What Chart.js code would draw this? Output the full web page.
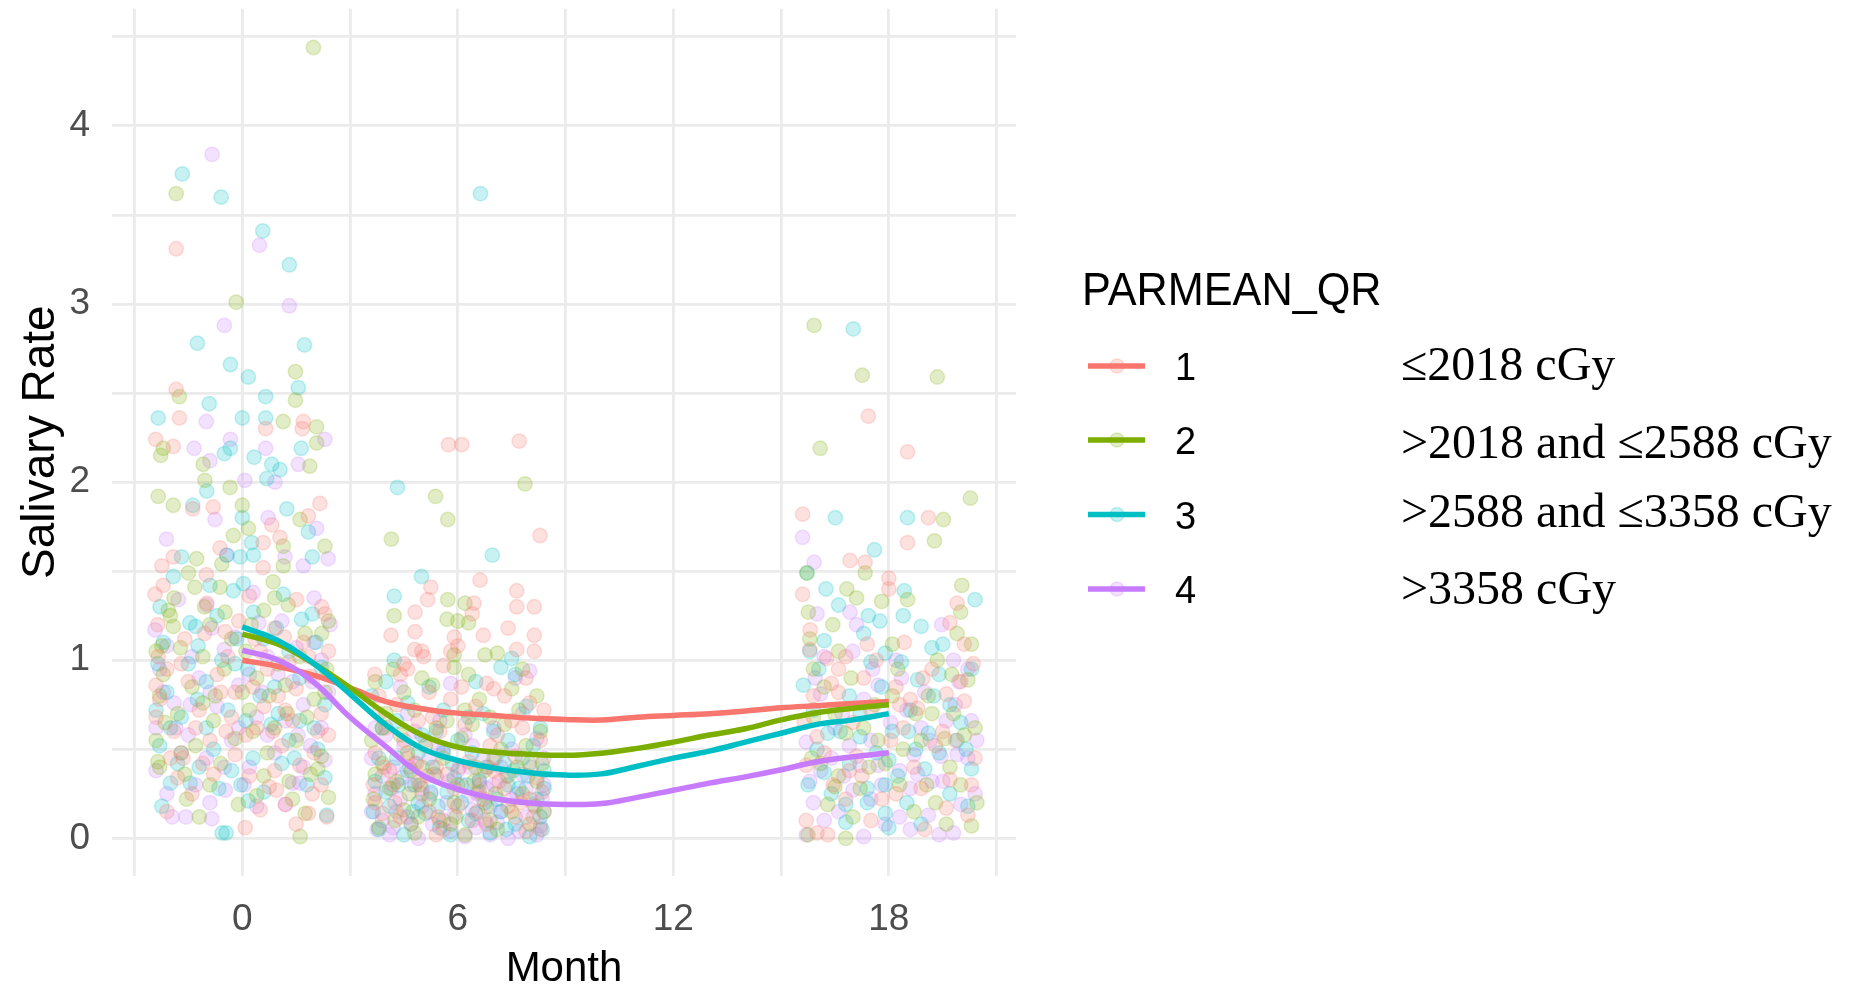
<!DOCTYPE html>
<html>
<head>
<meta charset="utf-8">
<script src="https://cdn.jsdelivr.net/npm/chart.js@4.4.1/dist/chart.umd.min.js"></script>
<style>
html,body{margin:0;padding:0;background:#fff;overflow:hidden}
canvas{display:block}
</style>
</head>
<body>
<canvas id="c" width="1859" height="993"></canvas>
<script>
// Dose quartile groups
const groupNames = ['1', '2', '3', '4'];
const groupLabels = ['\u22642018 cGy', '>2018 and \u22642588 cGy', '>2588 and \u22643358 cGy', '>3358 cGy'];
const groupColors = ['#F8766D', '#7CAE00', '#00BFC4', '#C77CFF'];

// Axis ticks
const xGrid = [-3, 0, 3, 6, 9, 12, 15, 18, 21];
const xLabeled = [0, 6, 12, 18];
const yGrid = [0, 0.5, 1, 1.5, 2, 2.5, 3, 3.5, 4, 4.5];
const yLabeled = [0, 1, 2, 3, 4];

// Smoothed trend per group, month 0..18
const smoothMonths = [0, 1, 2, 3, 4, 5, 6, 7, 8, 9, 10, 11, 12, 13, 14, 15, 16, 17, 18];
const q1Smooth = [1.00, 0.965, 0.915, 0.845, 0.768, 0.728, 0.703, 0.690, 0.675, 0.667, 0.664, 0.680, 0.690, 0.700, 0.715, 0.733, 0.745, 0.757, 0.768];
const q2Smooth = [1.146, 1.09, 0.98, 0.845, 0.70, 0.58, 0.512, 0.485, 0.472, 0.466, 0.478, 0.505, 0.54, 0.58, 0.615, 0.665, 0.705, 0.73, 0.75];
const q3Smooth = [1.187, 1.11, 0.98, 0.81, 0.637, 0.505, 0.437, 0.395, 0.368, 0.355, 0.362, 0.405, 0.45, 0.49, 0.54, 0.59, 0.64, 0.665, 0.70];
const q4Smooth = [1.056, 1.00, 0.875, 0.68, 0.515, 0.356, 0.275, 0.225, 0.198, 0.19, 0.195, 0.23, 0.27, 0.31, 0.345, 0.385, 0.43, 0.458, 0.48];

// Individual observations [jittered month, salivary rate]
const q1Points = [
  [-1.84,3.31],[-1.84,2.52],[-1.75,2.36],[0.65,2.30],[1.67,2.30],[1.70,2.34],[-2.41,2.24],[-1.92,2.20],[-0.81,1.86],[-1.38,1.85],
  [0.82,1.76],[1.84,1.81],[2.16,1.88],[1.05,1.69],[0.58,1.66],[-0.62,1.63],[-1.92,1.58],[-2.24,1.53],[0.58,1.52],[-2.43,1.37],
  [1.51,1.34],[2.21,1.30],[-0.99,1.32],[-0.48,1.16],[1.17,1.13],[2.30,1.26],[-2.34,1.02],[-1.60,1.12],[-0.10,1.22],[0.50,1.05],
  [1.30,0.99],[-2.10,0.95],[-1.50,0.88],[-0.70,0.92],[0.30,0.85],[1.00,0.80],[1.90,0.91],[-2.30,0.78],[-1.20,0.72],[-0.30,0.68],
  [0.60,0.74],[1.40,0.66],[2.20,0.70],[-1.90,0.60],[-0.90,0.55],[0.10,0.58],[1.10,0.52],[2.00,0.48],[-2.00,0.45],[-1.10,0.42],
  [-0.20,0.47],[0.90,0.38],[1.60,0.41],[-0.60,0.82],[2.40,0.58],[-2.40,0.86],[0.20,0.35],[0.75,0.29],[0.95,0.27],[1.84,0.14],
  [2.35,0.12],[-1.80,0.34],[1.20,0.19],[0.08,0.06],[-1.40,0.25],[1.50,0.08],
  [-2.20,1.42],[-1.00,1.48],[0.20,1.36],[1.70,1.10],[2.40,1.05],[-1.70,0.98],[-0.40,1.02],[0.70,0.95],[1.50,0.84],[-2.40,0.68],
  [-1.30,0.62],[0.40,0.62],[1.20,0.72],[2.10,0.60],[-0.80,0.36],[0.50,0.16],[-2.10,0.15],[2.20,0.30],[-0.20,0.82],[0.90,1.18],
  [-2.35,1.20],[-1.05,1.15],[0.35,1.12],[1.85,1.02],[-1.65,0.45],[-0.45,0.60],[0.85,0.60],[1.95,0.25],
  [5.74,2.21],[6.11,2.21],[7.71,2.23],[8.29,1.70],[5.25,1.41],[6.62,1.45],[5.16,1.34],[6.45,1.32],[7.64,1.39],[7.64,1.30],
  [8.13,1.30],[4.81,1.27],[6.40,1.26],[4.14,1.14],[4.81,1.16],[5.90,1.13],[6.71,1.14],[8.13,1.14],[4.80,1.06],[5.00,1.05],
  [5.05,1.02],[6.00,1.08],[7.64,1.06],[8.13,1.05],[4.50,0.98],[5.60,0.97],[3.69,0.92],[4.40,0.92],[7.90,0.90],[6.80,0.87],
  [7.00,0.84],[3.80,0.80],[4.30,0.75],[5.20,0.82],[5.80,0.78],[6.50,0.74],[7.30,0.80],[8.00,0.76],[4.00,0.62],[4.90,0.66],
  [5.50,0.60],[6.20,0.64],[7.10,0.58],[7.80,0.62],[8.30,0.55],[3.70,0.48],[4.60,0.45],[5.40,0.40],[6.30,0.43],[7.00,0.38],
  [7.60,0.46],[8.20,0.34],[4.20,0.30],[5.00,0.25],[5.90,0.28],[6.70,0.22],[7.40,0.18],[8.10,0.12],[3.90,0.14],[4.70,0.08],
  [5.60,0.05],[6.40,0.10],[7.90,0.04],
  [3.80,0.70],[4.50,0.55],[5.30,0.68],[6.10,0.85],[6.90,0.52],[7.50,0.66],[8.40,0.72],[4.10,0.38],[4.90,0.32],[5.70,0.36],
  [6.60,0.30],[7.30,0.28],[8.00,0.22],[3.70,0.20],[4.40,0.12],[5.20,0.15],[6.00,0.18],[6.80,0.08],[7.60,0.12],[8.30,0.05],
  [5.40,0.02],[4.60,0.95],[7.40,1.18],[5.80,1.05],
  [3.65,0.30],[4.25,0.20],[4.85,0.42],[5.45,0.12],[6.05,0.40],[6.55,0.15],[7.15,0.32],[7.75,0.20],[8.35,0.26],[5.15,0.35],
  [6.85,0.40],[3.95,0.40],
  [17.43,2.37],[18.52,2.17],[15.60,1.82],[19.10,1.80],[18.52,1.66],[16.92,1.56],[17.34,1.55],[18.00,1.46],[15.60,1.37],[18.00,1.40],
  [19.90,1.32],[19.70,1.21],[15.81,1.17],[18.43,1.10],[17.40,1.09],[15.80,1.06],[20.10,1.09],[16.27,1.01],[16.80,1.02],[16.40,0.87],
  [17.30,0.90],[18.20,0.85],[16.60,0.82],[18.60,0.78],[19.60,0.81],[20.10,0.77],[18.30,0.75],[18.80,0.73],[16.00,0.57],[15.70,0.41],
  [19.70,0.33],[19.60,0.17],[15.70,0.10],[20.20,0.13],[16.30,0.02],[16.00,0.03],[17.00,0.65],[19.30,0.52],[17.80,0.22],[20.40,0.45],
  [16.90,0.38],[18.90,0.28],
  [15.90,0.80],[16.60,0.95],[17.50,0.72],[18.40,0.62],[19.20,0.95],[20.00,0.88],[16.20,0.48],[17.10,0.46],[18.70,0.40],[19.50,0.60],
  [20.30,0.30],[16.80,0.22],[18.20,0.25],[19.00,0.05],[17.50,0.10],
  [15.65,0.65],[16.45,0.30],[17.25,0.35],[18.05,0.55],[18.95,0.90],[19.85,0.55],[20.35,0.98],[17.65,1.00]
];
const q2Points = [
  [1.98,4.44],[-1.84,3.62],[-0.17,3.01],[1.48,2.62],[-1.75,2.48],[1.48,2.46],[1.14,2.34],[2.07,2.31],[-2.20,2.19],[2.07,2.22],
  [-2.27,2.15],[-1.09,2.10],[1.88,2.09],[-1.04,2.01],[-0.34,1.97],[-2.34,1.92],[-1.92,1.87],[0.00,1.87],[1.61,1.79],[-0.25,1.70],
  [0.17,1.74],[1.14,1.64],[2.30,1.64],[-1.27,1.57],[-0.57,1.54],[1.14,1.53],[-1.50,1.49],[-0.62,1.41],[0.86,1.44],[-1.32,1.41],
  [-0.48,1.27],[-2.06,1.28],[1.28,1.31],[-1.92,1.19],[1.75,1.15],[2.21,1.15],[-2.24,1.08],[-1.72,1.07],[-1.10,1.02],[-2.35,0.43],
  [-2.30,0.40],[2.10,0.39],[1.30,0.32],[-0.90,0.30],[-0.11,0.19],[1.61,0.01],[1.75,0.14],[-2.20,0.92],[-1.40,0.85],[-0.50,0.95],
  [0.40,0.90],[1.20,0.86],[2.30,0.82],[-1.80,0.70],[-0.80,0.66],[0.20,0.72],[0.90,0.62],[1.80,0.68],[-2.40,0.55],[-1.30,0.52],
  [-0.20,0.56],[0.70,0.48],[1.50,0.55],[2.20,0.46],[-1.60,0.36],[0.40,0.24],[2.40,0.23],[-2.00,1.25],[0.10,1.05],
  [-1.90,1.35],[-0.90,1.20],[0.60,1.28],[1.60,1.02],[2.40,1.22],[-2.30,0.80],[-1.10,0.76],[0.00,0.82],[1.00,0.98],[2.00,0.78],
  [-1.70,0.48],[-0.60,0.42],[0.60,0.35],[1.40,0.22],[-1.20,0.12],[-0.30,1.12],[1.90,0.36],[0.90,1.35],[-2.40,1.05],[0.30,0.60],
  [-2.15,0.65],[-1.05,1.30],[0.25,1.20],[1.25,0.70],[2.35,0.95],[-0.75,0.80],[0.75,0.80],[-1.55,0.22],
  [7.87,1.99],[5.38,1.92],[5.72,1.79],[4.15,1.68],[5.72,1.34],[6.20,1.32],[4.23,1.25],[5.70,1.23],[6.00,1.22],[6.30,1.21],
  [5.90,1.03],[6.76,1.03],[7.10,1.04],[5.90,0.96],[3.70,0.88],[4.50,0.82],[5.30,0.86],[6.60,0.78],[7.50,0.84],[8.20,0.80],
  [4.00,0.70],[4.80,0.72],[5.70,0.66],[6.90,0.68],[7.70,0.72],[3.60,0.55],[4.40,0.58],[5.10,0.52],[6.10,0.56],[7.20,0.50],
  [8.30,0.60],[3.90,0.42],[4.70,0.38],[5.60,0.45],[6.50,0.40],[7.40,0.35],[8.00,0.42],[4.10,0.28],[5.20,0.22],[6.00,0.30],
  [6.80,0.18],[7.80,0.25],[3.80,0.06],[4.90,0.12],[5.80,0.08],[7.10,0.05],[8.40,0.15],[6.20,0.02],
  [4.20,0.95],[5.00,0.90],[6.30,0.92],[7.80,0.95],[3.90,0.62],[4.60,0.48],[5.40,0.62],[6.40,0.64],[7.00,0.45],[7.90,0.52],
  [4.30,0.32],[5.00,0.40],[5.90,0.20],[6.60,0.26],[7.50,0.15],[8.20,0.32],[4.50,0.16],[5.50,0.10],[6.90,0.10],[8.00,0.08],
  [3.70,0.36],[6.20,0.72],[7.30,0.64],[4.80,0.03],
  [3.65,0.22],[4.25,0.10],[4.95,0.30],[5.35,0.36],[5.95,0.12],[6.45,0.32],[7.05,0.25],[7.65,0.40],[8.15,0.18],[4.65,0.25],
  [6.75,0.38],[8.35,0.42],
  [15.92,2.88],[17.26,2.60],[19.35,2.59],[16.09,2.19],[20.27,1.91],[19.52,1.79],[19.27,1.67],[15.72,1.49],[17.34,1.49],[20.03,1.42],
  [16.83,1.40],[17.10,1.35],[17.80,1.33],[18.52,1.34],[15.76,1.27],[20.00,1.27],[16.44,1.20],[18.10,1.09],[20.30,1.09],[19.35,1.00],
  [15.90,0.95],[20.20,0.89],[19.10,0.80],[19.20,0.70],[19.80,0.70],[16.80,0.59],[19.55,0.56],[20.10,0.58],[16.60,0.35],[16.50,0.29],
  [16.30,0.19],[19.60,0.08],[20.30,0.07],[15.75,0.02],[16.80,0.00],[17.60,0.75],[18.40,0.50],[17.90,0.42],[15.90,0.68],[18.70,0.15],
  [17.20,0.28],[16.20,0.85],
  [15.80,1.12],[16.50,0.70],[17.30,0.62],[18.10,0.80],[18.90,0.55],[19.70,0.40],[20.40,0.62],[16.10,0.42],[17.00,0.12],[18.30,0.30],
  [19.30,0.20],[20.00,0.30],[17.70,0.55],[16.60,1.05],[19.90,1.15],
  [15.85,0.45],[16.95,0.90],[17.45,0.40],[18.25,0.95],[19.05,0.30],[19.75,0.92],[20.45,0.20],[18.75,0.70]
];
const q3Points = [
  [-1.67,3.73],[-0.59,3.60],[0.57,3.41],[1.31,3.22],[-1.25,2.78],[1.73,2.77],[-0.33,2.66],[0.17,2.59],[1.56,2.53],[-0.92,2.44],
  [0.65,2.48],[-2.34,2.36],[0.00,2.36],[0.65,2.36],[-0.33,2.19],[1.64,2.19],[-0.50,2.16],[0.33,2.14],[0.82,2.10],[1.05,2.07],
  [0.68,2.02],[-0.99,1.95],[-1.38,1.87],[0.00,1.80],[1.24,1.85],[1.84,1.72],[0.26,1.66],[-0.43,1.59],[-0.06,1.58],[-1.69,1.58],
  [0.31,1.59],[1.95,1.58],[-1.92,1.47],[-0.90,1.42],[0.03,1.43],[-0.25,1.39],[1.14,1.37],[-2.29,1.30],[0.31,1.27],[1.65,1.23],
  [1.95,1.26],[-1.46,1.21],[-1.30,1.19],[-1.23,1.08],[-0.57,1.00],[-0.56,0.03],[-0.45,0.03],[-2.24,0.18],[0.17,0.21],[2.30,0.34],
  [-2.00,0.31],[-1.45,0.31],[-0.04,0.30],[2.35,0.13],[-2.10,0.82],[-1.00,0.88],[0.50,0.80],[1.60,0.90],[-1.70,0.68],[-0.40,0.72],
  [0.80,0.64],[2.00,0.62],[-2.30,0.52],[-0.80,0.50],[0.30,0.45],[1.30,0.55],[-1.20,0.40],[1.00,0.70],
  [-2.20,1.10],[-0.70,1.25],[0.60,1.12],[1.30,1.05],[2.20,0.96],[-1.50,0.98],[-0.20,0.98],[0.90,0.85],[2.30,0.75],[-2.00,0.62],
  [-1.00,0.62],[0.10,0.66],[1.60,0.66],[-1.80,0.42],[-0.30,0.38],[1.10,0.42],[2.10,0.50],[0.60,0.26],[-2.40,0.72],[1.80,0.30],
  [-2.35,0.98],[-1.25,0.78],[-0.15,1.12],[0.95,1.18],[2.05,1.10],[-0.65,0.28],[1.45,0.45],[0.15,0.95],
  [6.63,3.62],[4.32,1.97],[6.96,1.59],[4.99,1.47],[4.23,1.36],[7.50,1.01],[4.23,1.00],[7.20,0.96],[3.60,0.80],[4.60,0.76],
  [5.60,0.72],[6.70,0.70],[7.90,0.74],[3.90,0.62],[5.00,0.58],[6.00,0.55],[7.00,0.60],[8.10,0.52],[4.30,0.45],[5.30,0.40],
  [6.40,0.48],[7.30,0.42],[8.40,0.38],[3.70,0.32],[4.80,0.30],[5.70,0.26],[6.60,0.32],[7.70,0.28],[4.10,0.18],[5.10,0.14],
  [6.10,0.20],[7.20,0.15],[8.20,0.22],[3.80,0.05],[4.50,0.02],[5.50,0.06],[6.90,0.03],[7.60,0.08],[8.00,0.01],[4.90,0.48],
  [6.30,0.10],
  [4.00,0.88],[5.20,0.85],[6.50,0.88],[7.60,0.92],[4.30,0.66],[5.40,0.60],[6.30,0.68],[7.40,0.55],[8.30,0.62],[3.80,0.45],
  [4.60,0.38],[5.60,0.48],[6.80,0.40],[7.80,0.45],[4.00,0.26],[4.90,0.20],[5.90,0.34],[6.50,0.14],[7.40,0.30],[8.30,0.12],
  [4.70,0.08],[5.80,0.02],[7.10,0.22],[8.40,0.28],
  [3.65,0.15],[4.35,0.30],[4.75,0.15],[5.25,0.26],[5.85,0.42],[6.25,0.30],[6.75,0.20],[7.35,0.05],[7.95,0.35],[8.35,0.05],
  [5.45,0.18],[7.55,0.38],
  [17.01,2.86],[16.51,1.80],[18.52,1.80],[17.60,1.62],[15.72,1.49],[16.25,1.40],[18.43,1.39],[20.40,1.34],[16.60,1.31],[17.43,1.25],
  [17.75,1.22],[18.40,1.25],[18.90,1.19],[17.30,1.15],[16.20,1.11],[19.20,1.07],[19.50,1.09],[17.90,1.04],[17.50,0.99],[18.35,0.99],
  [15.62,0.86],[18.80,0.89],[19.40,0.92],[16.30,0.59],[18.10,0.60],[18.55,0.60],[19.10,0.59],[17.20,0.57],[16.20,0.37],[18.00,0.44],
  [19.00,0.39],[20.30,0.39],[17.40,0.28],[16.80,0.19],[17.40,0.20],[18.50,0.20],[16.80,0.09],[17.90,0.14],[18.00,0.06],[15.90,0.72],
  [20.00,0.65],[19.70,0.25],
  [15.80,1.05],[16.90,0.80],[17.80,0.85],[18.60,0.72],[19.70,0.75],[20.30,0.95],[16.00,0.50],[16.90,0.42],[17.90,0.30],[19.40,0.48],
  [20.20,0.18],[16.40,0.25],[18.90,0.08],[19.90,0.55],[17.20,0.70],
  [16.05,0.95],[16.65,0.60],[17.65,0.48],[18.25,0.35],[19.25,0.80],[20.15,0.50],[15.75,0.30],[18.75,0.50]
];
const q4Points = [
  [-0.84,3.84],[0.48,3.33],[1.31,2.99],[-0.50,2.88],[-1.00,2.34],[2.30,2.24],[-0.33,2.24],[-1.34,2.19],[0.65,2.19],[-0.90,2.12],
  [1.56,2.10],[0.07,2.01],[0.91,2.00],[-0.76,1.79],[0.72,1.80],[-2.11,1.68],[2.07,1.74],[-0.43,1.59],[1.19,1.58],[1.70,1.53],
  [2.39,1.57],[0.30,1.38],[2.00,1.35],[-1.78,1.34],[-0.99,1.31],[-2.43,1.17],[-0.20,1.13],[0.46,1.21],[2.00,1.10],[2.20,1.00],
  [1.50,1.07],[-0.85,0.11],[-1.95,0.12],[-1.57,0.12],[-0.47,0.27],[1.40,0.31],[1.60,0.31],[1.20,0.19],[-2.30,0.95],[-1.20,0.90],
  [-0.10,0.86],[1.00,0.92],[-1.90,0.76],[-0.70,0.74],[0.40,0.68],[1.70,0.75],[-2.40,0.62],[-1.50,0.58],[-0.30,0.55],[0.70,0.58],
  [1.90,0.52],[-1.00,0.45],[0.20,0.40],[2.30,0.44],[-2.10,0.25],[-0.90,0.20],
  [-2.10,1.08],[-1.40,1.02],[-0.50,1.06],[0.70,1.02],[1.40,0.88],[2.40,0.82],[-2.20,0.82],[-0.90,0.82],[0.20,0.92],[1.20,0.66],
  [2.20,0.62],[-1.70,0.48],[-0.50,0.40],[0.90,0.48],[1.70,0.40],[-1.30,0.30],[0.40,0.18],[-2.40,0.38],[-0.10,0.62],[1.10,1.22],
  [-1.85,0.62],[-0.85,1.18],[0.55,0.82],[1.55,0.58],[2.45,1.20],[-1.45,0.75],[0.05,0.30],[1.95,0.88],
  [5.80,0.87],[7.60,0.90],[8.00,0.94],[4.60,0.70],[3.60,0.45],[4.20,0.40],[4.80,0.42],[5.40,0.35],[6.00,0.38],[6.60,0.33],
  [7.20,0.40],[7.80,0.36],[8.40,0.30],[3.70,0.25],[4.40,0.22],[5.00,0.28],[5.70,0.20],[6.30,0.24],[6.90,0.18],[7.50,0.22],
  [8.10,0.19],[3.90,0.10],[4.60,0.12],[5.30,0.08],[5.90,0.13],[6.50,0.06],[7.10,0.09],[7.70,0.04],[8.30,0.07],[4.10,0.02],
  [4.90,0.00],[6.20,0.01],[7.40,0.00],[8.20,0.02],[4.00,0.58],[5.10,0.55],[6.40,0.52],[7.00,0.62],[8.20,0.56],[5.50,0.66],
  [4.30,0.15],[6.80,0.28],
  [3.70,0.62],[4.50,0.52],[5.60,0.50],[6.70,0.45],[7.50,0.50],[8.40,0.45],[3.90,0.35],[4.70,0.30],[5.20,0.45],[6.10,0.30],
  [7.00,0.30],[7.90,0.28],[3.60,0.15],[4.20,0.06],[5.00,0.18],[5.60,0.10],[6.40,0.16],[7.20,0.15],[7.90,0.12],[8.40,0.15],
  [5.80,0.04],[6.90,0.02],[4.80,0.60],[6.20,0.58],[7.80,0.70],[4.40,0.85],
  [3.75,0.05],[4.15,0.28],[4.65,0.40],[5.25,0.25],[5.75,0.32],[6.35,0.40],[6.75,0.10],[7.35,0.35],[7.65,0.25],[8.05,0.40],
  [8.35,0.22],[4.45,0.34],[5.45,0.50],[6.55,0.25],[7.05,0.45],
  [15.60,1.69],[15.92,1.55],[16.00,1.26],[16.92,1.27],[17.10,1.20],[19.47,1.20],[19.80,1.00],[17.70,0.86],[19.95,0.88],[16.10,0.81],
  [20.30,0.66],[15.70,0.54],[18.70,0.47],[19.45,0.46],[19.90,0.47],[17.20,0.41],[17.70,0.41],[18.30,0.38],[19.20,0.32],[17.00,0.27],
  [17.80,0.30],[15.90,0.20],[19.10,0.13],[20.00,0.19],[18.30,0.12],[17.30,0.01],[19.80,0.03],[16.40,0.45],[18.90,0.62],[16.70,0.70],
  [17.50,0.55],[15.80,0.32],[20.40,0.25],[18.60,0.05],[16.20,0.10],
  [16.20,1.02],[17.00,1.05],[18.20,1.00],[19.00,0.82],[20.20,0.95],[16.50,0.62],[17.30,0.78],[18.50,0.72],[19.60,0.66],[16.10,0.38],
  [17.50,0.22],[18.60,0.28],[19.50,0.32],[20.20,0.45],[16.60,0.15],[17.90,0.08],[19.40,0.02],[15.70,0.02],[18.80,0.36],[16.90,0.52],
  [15.95,0.90],[16.75,0.35],[17.55,0.95],[18.05,0.65],[19.15,0.55],[19.85,0.75],[20.45,0.55],[18.35,0.90]
];

const pointSets = [q1Points, q2Points, q3Points, q4Points];
const smoothSets = [q1Smooth, q2Smooth, q3Smooth, q4Smooth];

function rgba(hex, a) {
  const n = parseInt(hex.slice(1), 16);
  return 'rgba(' + ((n >> 16) & 255) + ',' + ((n >> 8) & 255) + ',' + (n & 255) + ',' + a + ')';
}

const datasets = [];
pointSets.forEach((pts, i) => {
  datasets.push({
    type: 'scatter',
    label: groupNames[i],
    data: pts.map(p => ({ x: p[0], y: p[1] })),
    backgroundColor: rgba(groupColors[i], 0.22),
    borderColor: rgba(groupColors[i], 0.22),
    borderWidth: 1.5,
    pointRadius: 7.2,
    order: 10
  });
});
smoothSets.forEach((vals, i) => {
  datasets.push({
    type: 'line',
    label: groupNames[i],
    data: smoothMonths.map((m, k) => ({ x: m, y: vals[k] })),
    borderColor: groupColors[i],
    borderWidth: 5.5,
    pointRadius: 0,
    tension: 0.4,
    fill: false,
    order: 3 - i
  });
});

const FONT = 'Liberation Sans, Arial, sans-serif';

// Legend: title, keys with group number and dose description
const doseLegend = {
  id: 'doseLegend',
  afterDraw(chart) {
    const ctx = chart.ctx;
    ctx.save();
    ctx.fillStyle = '#000';
    ctx.textAlign = 'left';
    ctx.textBaseline = 'alphabetic';
    ctx.font = '47px ' + FONT;
    ctx.save();
    ctx.translate(1082, 305);
    ctx.scale(0.92, 1);
    ctx.fillText('PARMEAN_QR', 0, 0);
    ctx.restore();

    const rowY = [366, 440, 514.5, 589];
    const textY = [380, 458, 527, 604];
    groupNames.forEach((name, i) => {
      const y = rowY[i];
      const c = groupColors[i];
      ctx.beginPath();
      ctx.arc(1117, y, 7, 0, Math.PI * 2);
      ctx.fillStyle = rgba(c, 0.22);
      ctx.fill();
      ctx.strokeStyle = rgba(c, 0.22);
      ctx.lineWidth = 1.5;
      ctx.stroke();
      ctx.beginPath();
      ctx.moveTo(1088, y);
      ctx.lineTo(1145, y);
      ctx.strokeStyle = c;
      ctx.lineWidth = 5.5;
      ctx.stroke();

      ctx.fillStyle = '#000';
      ctx.font = '38px ' + FONT;
      ctx.textBaseline = 'middle';
      ctx.fillText(name, 1175, y + 4);

      ctx.font = '48px "Liberation Serif", "Times New Roman", serif';
      ctx.textBaseline = 'alphabetic';
      ctx.fillText(groupLabels[i], 1401, textY[i]);
    });
    ctx.restore();
  }
};

new Chart(document.getElementById('c'), {
  data: { datasets },
  options: {
    responsive: false,
    animation: false,
    devicePixelRatio: 1,
    layout: { padding: { left: 0, top: 8, right: 843, bottom: 0 } },
    plugins: { legend: { display: false }, tooltip: { enabled: false } },
    scales: {
      x: {
        type: 'linear',
        min: -3.627,
        max: 21.54,
        afterBuildTicks: s => { s.ticks = xGrid.map(v => ({ value: v })); },
        afterFit: s => { s.height = 117.3; s.paddingLeft = 0; s.paddingRight = 0; },
        ticks: {
          autoSkip: false,
          maxRotation: 0,
          padding: 22,
          color: '#4D4D4D',
          font: { family: FONT, size: 37 },
          callback: v => (xLabeled.includes(v) ? String(v) : '')
        },
        grid: { color: '#EBEBEB', lineWidth: 2.8, drawTicks: false },
        border: { display: false },
        title: {
          display: true,
          text: 'Month',
          color: '#000',
          font: { family: FONT, size: 42, lineHeight: 1 },
          padding: { top: 0, bottom: 3 }
        }
      },
      y: {
        type: 'linear',
        min: -0.2098,
        max: 4.658,
        afterBuildTicks: s => { s.ticks = yGrid.map(v => ({ value: v })); },
        afterFit: s => { s.width = 112; s.paddingTop = 0; s.paddingBottom = 0; },
        ticks: {
          autoSkip: false,
          padding: 22,
          color: '#4D4D4D',
          font: { family: FONT, size: 37 },
          callback: v => (yLabeled.includes(v) ? String(v) : '')
        },
        grid: { color: '#EBEBEB', lineWidth: 2.8, drawTicks: false },
        border: { display: false },
        title: {
          display: true,
          text: 'Salivary Rate',
          color: '#000',
          font: { family: FONT, size: 46, lineHeight: 1 },
          padding: { top: 18, bottom: 0 }
        }
      }
    }
  },
  plugins: [doseLegend]
});
</script>
</body>
</html>
